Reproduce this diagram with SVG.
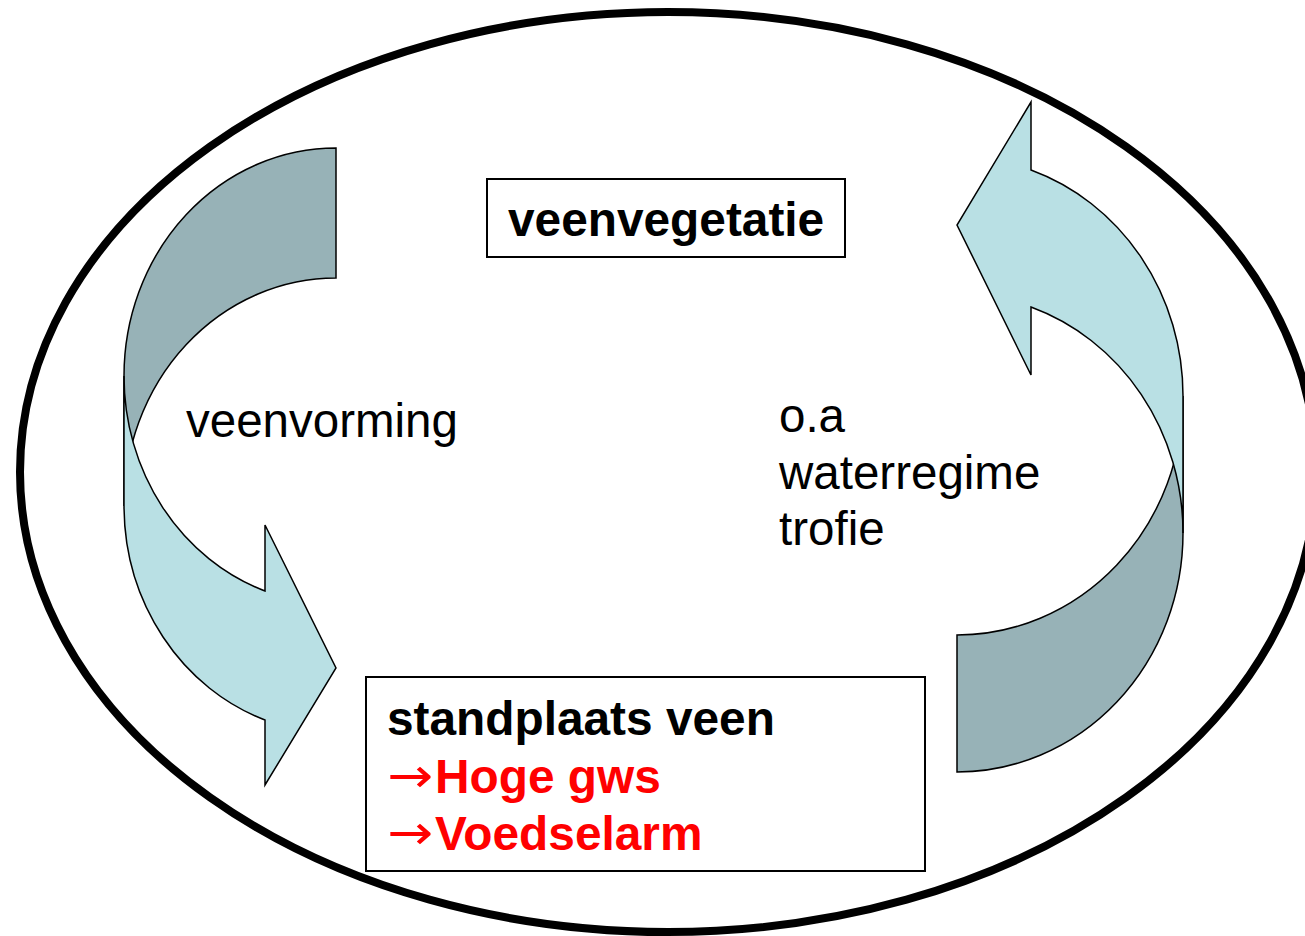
<svg xmlns="http://www.w3.org/2000/svg" width="1305" height="936" viewBox="0 0 1305 936">
<style>
.dark{fill:#97B2B7;stroke:#000;stroke-width:1.5;stroke-linejoin:miter}
.light{fill:#B9E0E4;stroke:#000;stroke-width:1.5;stroke-linejoin:miter}
.box{fill:#fff;stroke:#000;stroke-width:2}
.b{font-family:"Liberation Sans",Arial,sans-serif;font-weight:bold;font-size:47.8px;fill:#000}
.r{font-family:"Liberation Sans",Arial,sans-serif;font-size:47.5px;fill:#000}
.red{fill:#FF0000}
.arw{font-family:"DejaVu Sans",sans-serif;font-weight:normal;font-size:47.8px;fill:#FF0000}
</style>
<rect width="1305" height="936" fill="#fff"/>
<g id="frame">
<ellipse cx="668" cy="472" rx="648" ry="460" fill="#fff" stroke="#000" stroke-width="8"/>
</g>
<g id="connectors">
<g id="arrow-left">
<path class="dark" d="M336,148 A212,228 0 0 0 124,376 L124,506 A212,228 0 0 1 336,278 Z"/>
<path class="light" d="M124,376 A212,228 0 0 0 265,591 L265,525 L336,668 L265,785 L265,720 A212,228 0 0 1 124,506 Z"/>
</g>
<g id="arrow-right">
<path class="dark" d="M957,772 A226,239 0 0 0 1183,533 L1183,396 A226,239 0 0 1 957,635 Z"/>
<path class="light" d="M1183,533 A226,239 0 0 0 1031,307 L1031,375 L957,225 L1031,102 L1031,170 A226,239 0 0 1 1183,396 Z"/>
</g>
</g>
<g id="node-veenvegetatie">
<rect class="box" x="487" y="179" width="358" height="78"/>
<text class="b" x="508" y="236">veenvegetatie</text>
</g>
<g id="node-standplaats">
<rect class="box" x="366" y="677" width="559" height="194"/>
<text class="b" x="387" y="735">standplaats veen</text>
<text class="arw" x="387" y="792" textLength="46" lengthAdjust="spacingAndGlyphs">→</text>
<text class="b red" x="435" y="793">Hoge gws</text>
<text class="arw" x="387" y="849" textLength="46" lengthAdjust="spacingAndGlyphs">→</text>
<text class="b red" x="435" y="850">Voedselarm</text>
</g>
<g id="label-veenvorming">
<text class="r" x="186" y="437">veenvorming</text>
</g>
<g id="label-factors">
<text class="r" x="779" y="432">o.a</text>
<text class="r" x="779" y="489">waterregime</text>
<text class="r" x="779" y="545">trofie</text>
</g>
</svg>
